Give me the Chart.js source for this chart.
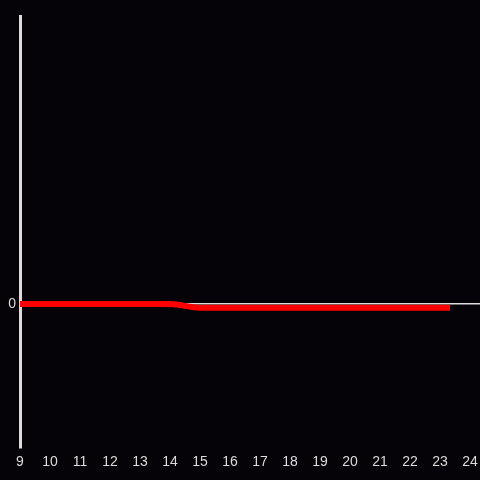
<!DOCTYPE html>
<html>
<head>
<meta charset="utf-8">
<script src="https://cdn.jsdelivr.net/npm/chart.js@4"></script>
<style>
  html, body { margin: 0; padding: 0; background: #050307; }
  #wrap { width: 480px; height: 480px; }
</style>
</head>
<body>
<div id="wrap"><canvas id="c"></canvas></div>
<script>
// hour of day vs. value; only the zero line and its label are shown on y
const hours  = [9, 10, 11, 12, 13, 14, 15, 16, 17, 18, 19, 20, 21, 22, 23, 23.33];
const values = [0, 0, 0, 0, 0, 0, -0.026, -0.026, -0.026, -0.026, -0.026, -0.026, -0.026, -0.026, -0.026, -0.026];
const xTicks = [9, 10, 11, 12, 13, 14, 15, 16, 17, 18, 19, 20, 21, 22, 23, 24];
const yTicks = [0];

const INK = '#dcdcdc';

new Chart(document.getElementById('c'), {
  type: 'line',
  data: {
    datasets: [{
      data: hours.map((h, i) => ({ x: h, y: values[i] })),
      borderColor: '#ff0000',
      borderWidth: 6,
      borderCapStyle: 'butt',
      pointRadius: 0,
      cubicInterpolationMode: 'monotone',
      fill: false,
    }]
  },
  options: {
    responsive: true, maintainAspectRatio: false, animation: false,
    layout: { padding: { top: 16, right: 0, left: 0, bottom: 0 } },
    plugins: { legend: { display: false }, tooltip: { enabled: false } },
    scales: {
      x: {
        type: 'linear', min: 9, max: 24.33,
        afterBuildTicks: s => { s.ticks = xTicks.map(v => ({ value: v })); },
        afterFit: s => { s.height = 32; s.paddingLeft = 0; s.paddingRight = 0; },
        border: { display: false },
        grid: { display: false, drawTicks: false },
        ticks: { color: INK, font: { size: 14, family: 'Liberation Sans, Arial' }, padding: 6, maxRotation: 0, autoSkip: false },
      },
      y: {
        min: -1, max: 2,
        afterBuildTicks: s => { s.ticks = yTicks.map(v => ({ value: v })); },
        afterFit: s => { s.width = 20; },
        border: { display: true, color: INK, width: 3 },
        grid: { color: INK, lineWidth: 1.5, drawTicks: false },
        ticks: { color: INK, font: { size: 14, family: 'Liberation Sans, Arial' }, padding: 4 },
      }
    }
  },
  plugins: [{
    id: 'bg',
    beforeDraw: c => {
      const ctx = c.ctx;
      ctx.save();
      ctx.fillStyle = '#050307';
      ctx.fillRect(0, 0, c.width, c.height);
      ctx.restore();
    }
  }]
});
</script>
</body>
</html>
